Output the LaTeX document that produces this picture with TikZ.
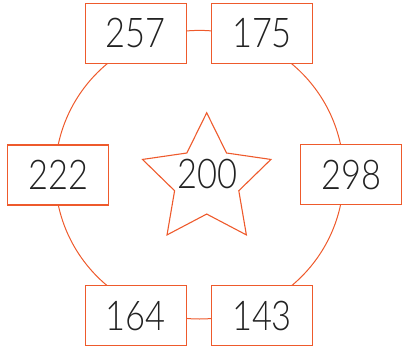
\documentclass[tikz,border=0pt]{standalone}
\usepackage{fontspec}
\setmainfont{Lato Light}[FakeStretch=0.84]
\definecolor{ringorange}{HTML}{EE5A2C}
\definecolor{numgray}{HTML}{222222}
\usetikzlibrary{shapes.geometric}

\begin{document}
\begin{tikzpicture}[
  x=1pt, y=-1pt,
  font=\fontsize{41}{41}\selectfont,
  numbox/.style={draw=ringorange, line width=1.2pt, fill=white, text=numgray, minimum width=101pt, minimum height=60pt, inner sep=0pt},
  starbox/.style={draw=ringorange, line width=1.1pt, star, star points=5, star point ratio=2, minimum size=135pt, inner sep=0pt},
  ringline/.style={draw=ringorange, line width=1pt},
]
  \useasboundingbox (0,0) rectangle (402,356);
  % ring behind the boxes
  \draw[ringline] (199.4,174.7) circle (144.3);
  % centre star
  \node[starbox] (star) at (206.7,180.3) {};
  \node[text=numgray, inner sep=0pt] (v200) at (207.5,174) {200};
  % boxes round the ring
  \node[numbox] (v257) at (135.7,33.3)  {257};
  \node[numbox] (v175) at (262,33.3)    {175};
  \node[numbox] (v222) at (58.2,175)    {222};
  \node[numbox] (v298) at (351.3,174.5) {298};
  \node[numbox] (v164) at (135.7,315.7) {164};
  \node[numbox] (v143) at (262,315.7)   {143};
\end{tikzpicture}
\end{document}
